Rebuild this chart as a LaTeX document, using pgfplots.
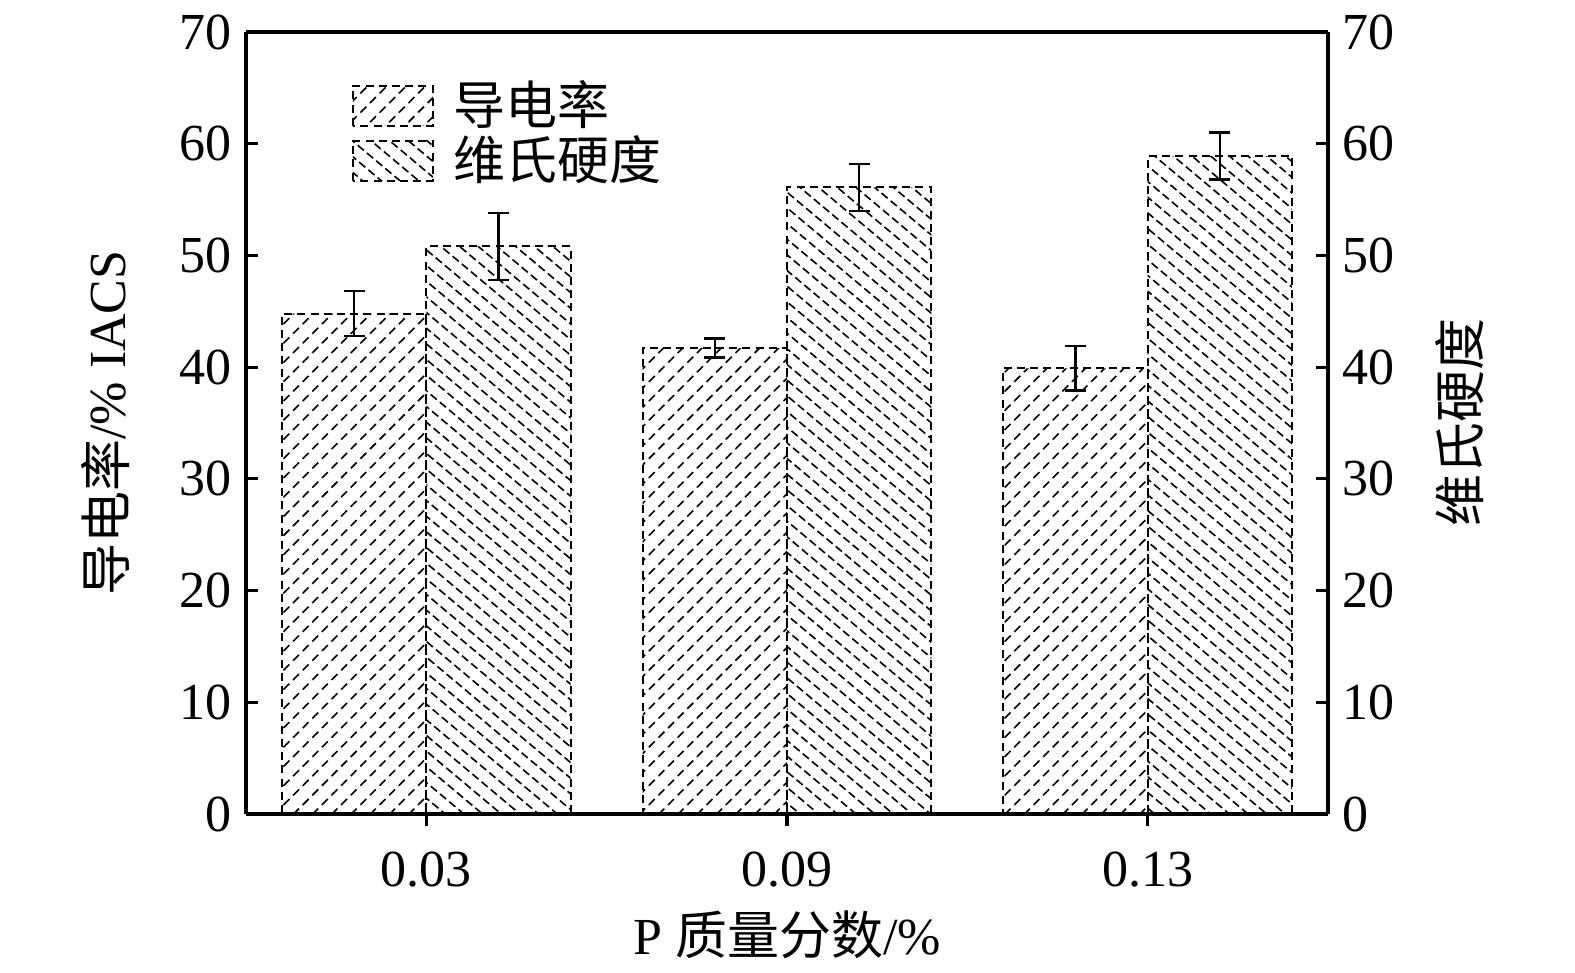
\documentclass[border=0pt]{standalone}
\usepackage{fontspec}
\setmainfont{Liberation Serif}
\newfontfamily\cjk{Noto Sans CJK SC}
\usepackage{pgfplots}
\pgfplotsset{compat=1.18}
\usetikzlibrary{patterns.meta}
\newcommand{\fs}{\fontsize{13}{15}\selectfont}
\pgfplotsset{boxlegend/.style={legend image code/.code={\draw[##1] (0pt,-5pt) rectangle (20pt,5pt);}}}
\begin{document}
\begin{tikzpicture}
\begin{axis}[
  name=ax,
  scale only axis,
  width=270.5pt, height=195.5pt,
  xmin=-0.5, xmax=2.5,
  ymin=0, ymax=70,
  xtick={0,1,2},
  xticklabels={0.03,0.09,0.13},
  ytick={0,10,...,70},
  axis y line*=left,
  axis x line*=bottom,
  tick align=inside,
  major tick length=3pt,
  axis line style={line width=0.8pt},
  every tick/.style={line width=0.8pt,black},
  /pgf/number format/assume math mode=true,
  tick label style={font=\fs},
  xticklabel style={yshift=-3pt},
  label style={font=\fs},
  xlabel={P {\cjk 质量分数}/\%},
  ylabel={{\cjk 导电率}/\% IACS},
  xlabel style={at={(axis description cs:0.5,-0.155)},anchor=center},
  ylabel style={at={(axis description cs:-0.13,0.5)},anchor=center},
  legend style={draw=none,fill=none,font=\fs,at={(axis description cs:0.086,0.952)},anchor=north west,row sep=0pt,nodes={inner ysep=0.6pt},
    /tikz/every odd column/.append style={column sep=3pt}},
  legend cell align=left,
  ybar, bar width=0.4,
  clip=false,
]
\addplot[draw=black, line width=0.5pt, dash pattern=on 2pt off 1.3pt,
  pattern={Lines[angle=45,distance=3.4pt,line width=0.4pt]},
  bar shift=-0.2, boxlegend,
  error bars/.cd, y dir=both, y explicit,
  error bar style={solid,line width=0.6pt,black},
  error mark options={rotate=90,mark size=2.6pt,solid,line width=0.6pt,black}]
  coordinates {
  (0,44.8) +- (0,2.0)
  (1,41.7) +- (0,0.85)
  (2,39.9) +- (0,2.0)
  };
\addlegendentry{\cjk 导电率}
\addplot[draw=black, line width=0.5pt, dash pattern=on 2pt off 1.3pt,
  pattern={Lines[angle=-40,distance=3pt,line width=0.4pt]},
  bar shift=0.2, boxlegend,
  error bars/.cd, y dir=both, y explicit,
  error bar style={solid,line width=0.6pt,black},
  error mark options={rotate=90,mark size=2.6pt,solid,line width=0.6pt,black}]
  coordinates {
  (0,50.8) +- (0,3.0)
  (1,56.1) +- (0,2.1)
  (2,58.9) +- (0,2.1)
  };
\addlegendentry{\cjk 维氏硬度}
\end{axis}
\begin{axis}[
  scale only axis,
  width=270.5pt, height=195.5pt,
  xmin=-0.5, xmax=2.5,
  ymin=0, ymax=70,
  ytick={0,10,...,70},
  axis y line*=right,
  axis x line*=top,
  xtick=\empty,
  tick align=inside,
  major tick length=3pt,
  axis line style={line width=0.8pt},
  every tick/.style={line width=0.8pt,black},
  /pgf/number format/assume math mode=true,
  tick label style={font=\fs},
  label style={font=\fs},
  ylabel={\cjk 维氏硬度},
  ylabel style={at={(axis description cs:1.122,0.5)},anchor=center,rotate=0},
]
\end{axis}
\path ([shift={(-61.5pt,-39.75pt)}]ax.south west) rectangle ([shift={(61.75pt,8pt)}]ax.north east);
\end{tikzpicture}
\end{document}
